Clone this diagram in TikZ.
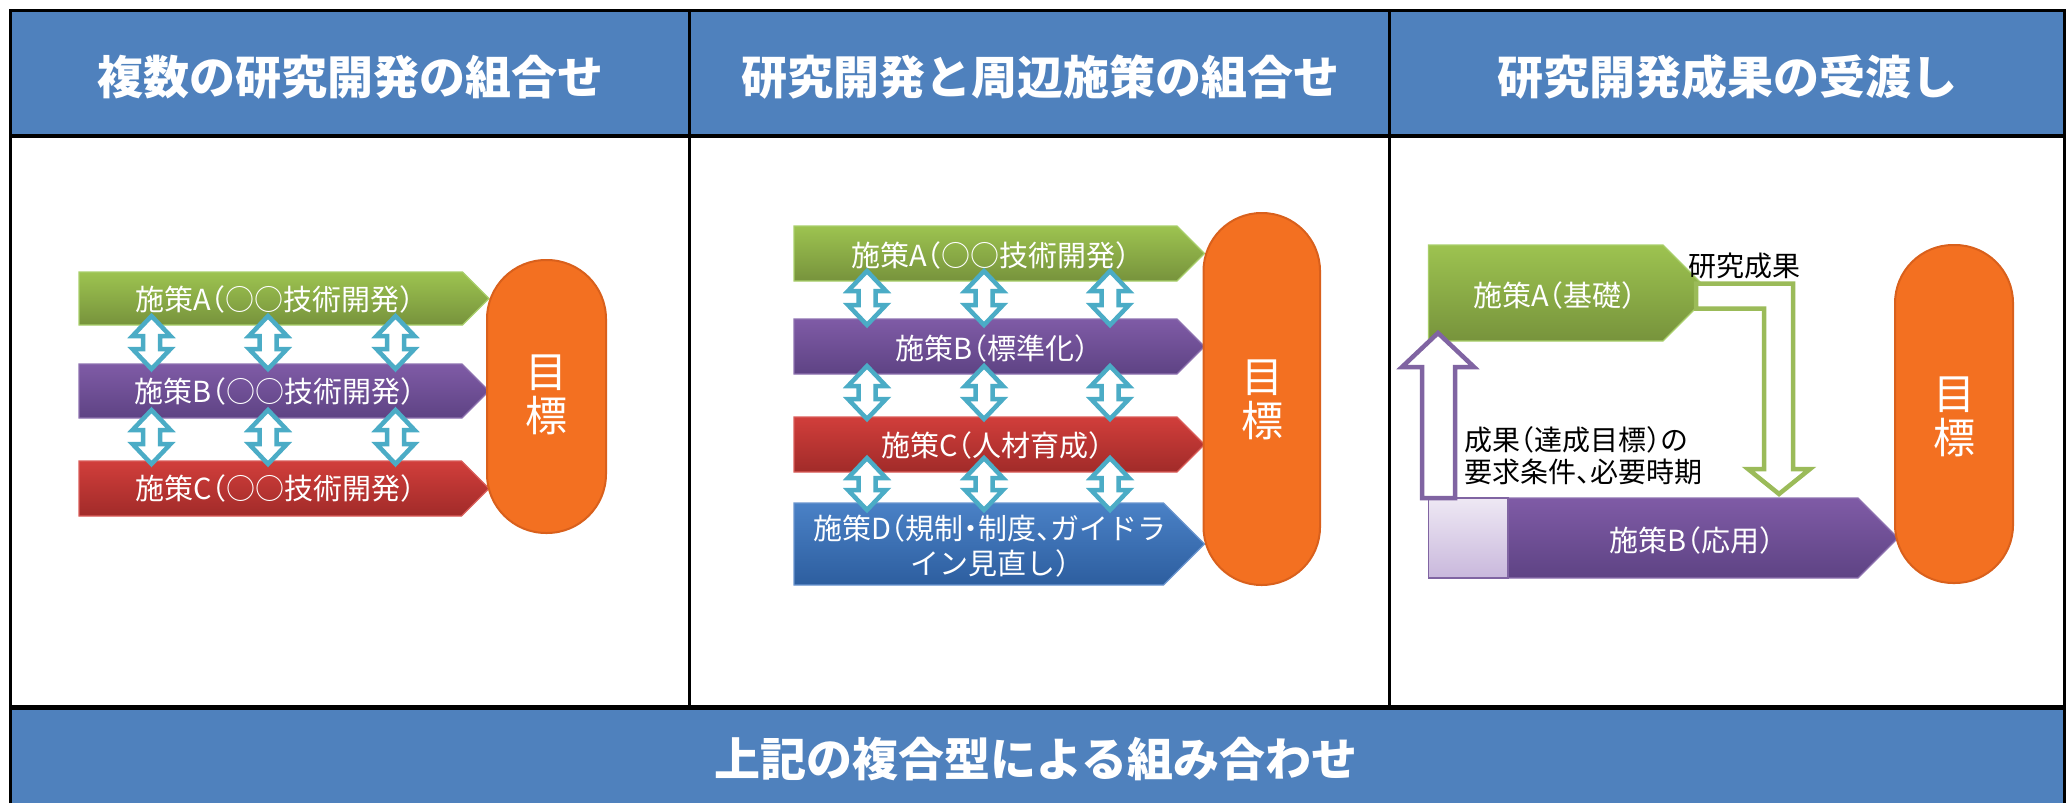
\documentclass[tikz,border=0pt]{standalone}
\usepackage{fontspec}
\newfontfamily\cjk[RawFeature=+halt]{Noto Sans CJK JP}
\definecolor{hdr}{HTML}{4F81BD}
\definecolor{grnT}{HTML}{9DC350}
\definecolor{grnB}{HTML}{77933C}
\definecolor{grnL}{HTML}{A9CF6B}
\definecolor{purT}{HTML}{7F5BA6}
\definecolor{purB}{HTML}{5E4384}
\definecolor{purL}{HTML}{8E72B0}
\definecolor{redT}{HTML}{D13E3B}
\definecolor{redB}{HTML}{A12B29}
\definecolor{redL}{HTML}{DA5E5A}
\definecolor{bluT}{HTML}{4A81C6}
\definecolor{bluB}{HTML}{2D5E9F}
\definecolor{bluL}{HTML}{6A95CF}
\definecolor{aqua}{HTML}{4BACC6}
\definecolor{orng}{HTML}{F37021}
\definecolor{orngd}{HTML}{D9601C}
\definecolor{lavT}{HTML}{EEE8F4}
\definecolor{lavB}{HTML}{C9B8DC}
\definecolor{bentg}{HTML}{9BBB59}
\definecolor{bentp}{HTML}{8064A2}
\newcommand\chevron[6]{\path[#1] (#2,#3) -- ({#4-#6},#3) -- (#4,{(#3+#5)/2}) -- ({#4-#6},#5) -- (#2,#5) -- cycle;}
\newcommand\dblarr[3]{\draw[dbl] (#1,#2) -- ({#1+19},{#2+20}) -- ({#1+8.5},{#2+20}) -- ({#1+8.5},{#3-20}) -- ({#1+19},{#3-20}) -- (#1,#3) -- ({#1-19},{#3-20}) -- ({#1-8.5},{#3-20}) -- ({#1-8.5},{#2+20}) -- ({#1-19},{#2+20}) -- cycle;}
\begin{document}
\begin{tikzpicture}[x=1pt,y=-1pt,
  hdrtxt/.style={text=white, font=\cjk\bfseries\fontsize{46}{50}\selectfont, inner sep=0pt},
  armtxt/.style={text=white, font=\cjk\fontsize{29}{35}\selectfont, inner sep=0pt, align=center},
  goaltxt/.style={text=white, font=\cjk\fontsize{42}{44}\selectfont, inner sep=0pt, align=center},
  lbl/.style={text=black, font=\cjk\fontsize{28}{32}\selectfont, inner sep=0pt, align=left},
  dbl/.style={draw=aqua, fill=white, line width=4.5pt, line join=miter},
  goal/.style={fill=orng, draw=orngd, line width=2pt},
  grn/.style={top color=grnT, bottom color=grnB, draw=grnL, line width=1.2pt},
  pur/.style={top color=purT, bottom color=purB, draw=purL, line width=1.2pt},
  red/.style={top color=redT, bottom color=redB, draw=redL, line width=1.2pt},
  blu/.style={top color=bluT, bottom color=bluB, draw=bluL, line width=1.2pt},
  outl/.style={fill=white, line width=4.5pt, line join=miter}
]
\useasboundingbox (0,0) rectangle (2071,803);
% header and bottom band
\fill[hdr] (10.6,10.6) rectangle (2064,135.5);
\fill[hdr] (10.6,707) rectangle (2064,803);
\draw[line width=3pt] (10.6,803) -- (10.6,10.6) -- (2064,10.6) -- (2064,803);
\draw[line width=4pt] (10.6,135.5) -- (2064,135.5);
\draw[line width=5pt] (10.6,707) -- (2064,707);
\draw[line width=2.5pt] (689.5,10.6) -- (689.5,707);
\draw[line width=2.5pt] (1389.5,10.6) -- (1389.5,707);
\node[hdrtxt] (h1) at (350,77) {複数の研究開発の組合せ};
\node[hdrtxt] (h2) at (1040,77) {研究開発と周辺施策の組合せ};
\node[hdrtxt] (h3) at (1727,77) {研究開発成果の受渡し};
\node[hdrtxt] (h4) at (1036,759) {上記の複合型による組み合わせ};

% ---------- panel 1
\chevron{grn}{79}{272}{489}{325}{26.5}
\chevron{pur}{79}{364}{489}{418}{27}
\chevron{red}{79}{461}{489}{516}{27.5}
\node[armtxt] (p1a) at (275,299) {施策A（○○技術開発）};
\node[armtxt] (p1b) at (275,391) {施策B（○○技術開発）};
\node[armtxt] (p1c) at (275,488) {施策C（○○技術開発）};
\foreach \x in {151.5,268,395.5}{\dblarr{\x}{316}{369}\dblarr{\x}{410}{464}}
\draw[goal, rounded corners=59pt] (487,260) rectangle (606,533);
\node[goaltxt] (g1) at (546,395) {目\\標};

% ---------- panel 2
\chevron{grn}{794}{226}{1204.5}{281}{27.5}
\chevron{pur}{794}{319}{1204.5}{374}{27.5}
\chevron{red}{794}{417}{1204.5}{472}{27.5}
\chevron{blu}{794}{503}{1204.5}{585}{41}
\node[armtxt] (p2a) at (991,255) {施策A（○○技術開発）};
\node[armtxt] (p2b) at (992,348) {施策B（標準化）};
\node[armtxt] (p2c) at (992,445) {施策C（人材育成）};
\node[armtxt] (p2d) at (990,545.5) {施策D（規制・制度、ガイドラ\\イン見直し）};
\foreach \x in {867,984,1110}{\dblarr{\x}{271}{325}\dblarr{\x}{366}{419}\dblarr{\x}{458}{510}}
\draw[goal, rounded corners=58pt] (1203.5,213) rectangle (1320,585);
\node[goaltxt] (g2) at (1262,400) {目\\標};

% ---------- panel 3
\chevron{grn}{1428.5}{245}{1711}{341}{48}
\node[armtxt] (p3a) at (1555,295) {施策A（基礎）};
\chevron{pur}{1508}{498}{1898}{578}{40}
\path[top color=lavT, bottom color=lavB, draw=bentp, line width=1.2pt] (1428.5,498) rectangle (1508,578);
\node[armtxt] (p3b) at (1692,540) {施策B（応用）};
\draw[outl, draw=bentg] (1696,283.5) -- (1793,283.5) -- (1793,469) -- (1810,469) -- (1779,494) -- (1748,469) -- (1764,469) -- (1764,308.5) -- (1696,308.5) -- cycle;
\draw[outl, draw=bentp] (1422,498) -- (1422,367) -- (1402,367) -- (1438,333) -- (1474,367) -- (1455,367) -- (1455,498) -- cycle;
\node[lbl] (r1) at (1744,266) {研究成果};
\node[lbl, anchor=west] (r2) at (1464,456) {成果（達成目標）の\\要求条件、必要時期};
\draw[goal, rounded corners=58pt] (1895,245) rectangle (2013,583);
\node[goaltxt] (g3) at (1954,417) {目\\標};
\end{tikzpicture}
\end{document}
